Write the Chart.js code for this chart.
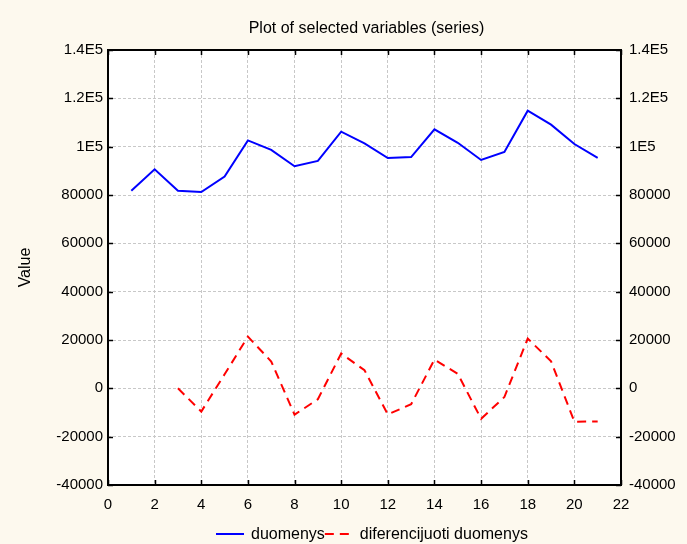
<!DOCTYPE html>
<html>
<head>
<meta charset="utf-8">
<script src="https://cdn.jsdelivr.net/npm/chart.js@4"></script>
<style>
  html, body { margin: 0; padding: 0; background: #fdf9ee; }
  #wrap { width: 687px; height: 544px; }
</style>
</head>
<body>
<div id="wrap"><canvas id="c" width="687" height="544"></canvas></div>
<script>
// Observation index (1..21)
const periods = [1,2,3,4,5,6,7,8,9,10,11,12,13,14,15,16,17,18,19,20,21];
// Original series
const duomenys = [81800, 90600, 81800, 81200, 87600, 102600, 98700, 91900, 94100, 106200,
                  101400, 95300, 95700, 107200, 101600, 94500, 97800, 114900, 109100, 101100, 95400];
// Lag-2 differenced series (first two undefined)
const diferencijuoti = [null, null, 0, -9600, 5800, 21400, 11100, -10900, -4500, 14400,
                        7500, -10800, -6600, 11900, 6000, -12600, -3600, 20600, 11200, -13800, -13700];
const yTicks = [-40000, -20000, 0, 20000, 40000, 60000, 80000, 100000, 120000, 140000];
const xTicks = [0, 2, 4, 6, 8, 10, 12, 14, 16, 18, 20, 22];

const FONT = '"Liberation Sans", Arial, sans-serif';

function fmtY(v) {
  if (Math.abs(v) >= 100000) {
    return (v / 100000).toString() + 'E5';
  }
  return String(v);
}

// Frame, inward tick marks, title and legend
const decor = {
  id: 'decor',
  afterDraw(chart) {
    const ctx = chart.ctx;
    const a = chart.chartArea;
    const xs = chart.scales.x, ys = chart.scales.y;
    ctx.save();
    ctx.strokeStyle = '#000';
    ctx.lineWidth = 2;
    ctx.setLineDash([]);
    ctx.strokeRect(a.left, a.top, a.right - a.left, a.bottom - a.top);
    ctx.lineWidth = 1.5;
    const tl = 5;
    ctx.beginPath();
    xTicks.forEach(v => {
      const px = Math.round(xs.getPixelForValue(v)) + 0.5;
      ctx.moveTo(px, a.top); ctx.lineTo(px, a.top + tl);
      ctx.moveTo(px, a.bottom); ctx.lineTo(px, a.bottom - tl);
    });
    yTicks.forEach(v => {
      const py = Math.round(ys.getPixelForValue(v)) + 0.5;
      ctx.moveTo(a.left, py); ctx.lineTo(a.left + tl, py);
      ctx.moveTo(a.right, py); ctx.lineTo(a.right - tl, py);
    });
    ctx.stroke();

    // title
    ctx.fillStyle = '#000';
    ctx.font = '16px ' + FONT;
    ctx.textAlign = 'center';
    ctx.textBaseline = 'middle';
    ctx.fillText('Plot of selected variables (series)', (a.left + a.right) / 2 + 2, 29);

    // legend
    const ly = 534;
    ctx.textAlign = 'left';
    ctx.font = '16px ' + FONT;
    const ds = chart.data.datasets;
    let x = 216;
    ds.forEach((d, i) => {
      ctx.strokeStyle = d.borderColor;
      ctx.lineWidth = 2;
      ctx.setLineDash(d.borderDash || []);
      ctx.beginPath();
      ctx.moveTo(x, ly); ctx.lineTo(x + 28, ly);
      ctx.stroke();
      ctx.setLineDash([]);
      ctx.fillStyle = '#000';
      ctx.fillText(d.label, x + 35, ly + 1);
      x += 35 + ctx.measureText(d.label).width;
    });
    ctx.restore();
  }
};

const bgPlugin = {
  id: 'bg',
  beforeDraw(chart) {
    const ctx = chart.ctx;
    const a = chart.chartArea;
    ctx.save();
    ctx.fillStyle = '#fdf9ee';
    ctx.fillRect(0, 0, chart.width, chart.height);
    ctx.fillStyle = '#ffffff';
    ctx.fillRect(a.left, a.top, a.right - a.left, a.bottom - a.top);
    ctx.restore();
  }
};

const gridOpts = { color: '#c8c8c8', lineWidth: 1, drawTicks: false };
const borderOpts = { display: false, dash: [3, 2] };

new Chart(document.getElementById('c'), {
  type: 'line',
  data: {
    labels: periods,
    datasets: [
      {
        label: 'duomenys',
        data: periods.map((p, i) => ({ x: p, y: duomenys[i] })),
        borderColor: '#0000ff',
        borderWidth: 2,
        pointRadius: 0,
        tension: 0,
        fill: false
      },
      {
        label: 'diferencijuoti duomenys',
        data: periods.map((p, i) => ({ x: p, y: diferencijuoti[i] })),
        borderColor: '#ff0000',
        borderWidth: 2,
        borderDash: [9, 6],
        pointRadius: 0,
        tension: 0,
        fill: false,
        spanGaps: false
      }
    ]
  },
  options: {
    responsive: false,
    animation: false,
    devicePixelRatio: 1,
    layout: { padding: { top: 50, left: 0, right: 0, bottom: 0 } },
    plugins: {
      legend: { display: false },
      title: { display: false },
      tooltip: { enabled: false }
    },
    scales: {
      x: {
        type: 'linear',
        min: 0, max: 22,
        afterBuildTicks: s => { s.ticks = xTicks.map(v => ({ value: v })); },
        afterFit: s => { s.height = 59; },
        grid: gridOpts,
        border: borderOpts,
        ticks: {
          color: '#000',
          font: { family: FONT, size: 15 },
          padding: 11,
          maxRotation: 0,
          autoSkip: false
        }
      },
      y: {
        position: 'left',
        min: -40000, max: 140000,
        afterBuildTicks: s => { s.ticks = yTicks.map(v => ({ value: v })); },
        afterFit: s => { s.width = 108; },
        grid: gridOpts,
        border: borderOpts,
        title: {
          display: true,
          text: 'Value',
          color: '#000',
          font: { family: FONT, size: 16 },
          padding: { top: 16, bottom: 0 }
        },
        ticks: {
          color: '#000',
          font: { family: FONT, size: 15 },
          padding: 5,
          callback: v => fmtY(v)
        }
      },
      y2: {
        position: 'right',
        min: -40000, max: 140000,
        afterBuildTicks: s => { s.ticks = yTicks.map(v => ({ value: v })); },
        afterFit: s => { s.width = 66; },
        grid: { display: false, drawTicks: false },
        border: { display: false },
        ticks: {
          color: '#000',
          font: { family: FONT, size: 15 },
          padding: 8,
          callback: v => fmtY(v)
        }
      }
    }
  },
  plugins: [bgPlugin, decor]
});
</script>
</body>
</html>
